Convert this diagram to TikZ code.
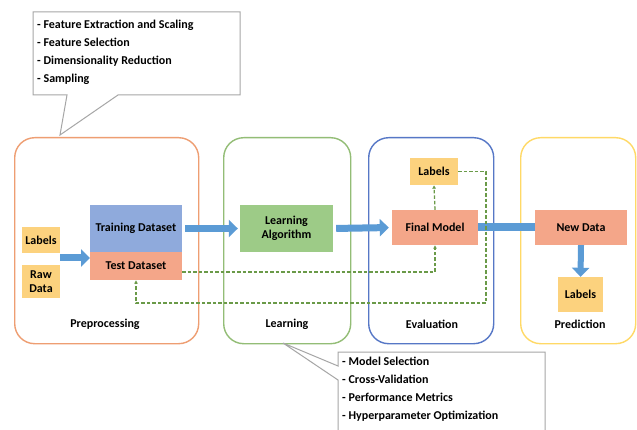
\documentclass[tikz,border=0pt]{standalone}
\usepackage{fontspec}
\setmainfont{Carlito}
\usetikzlibrary{arrows.meta,calc}
\definecolor{cOrange}{HTML}{EE9E72}
\definecolor{cGreen}{HTML}{93BD76}
\definecolor{cBlue}{HTML}{5677C6}
\definecolor{cYellow}{HTML}{FFD966}
\definecolor{fLabel}{HTML}{FCD27E}
\definecolor{fTrain}{HTML}{8FAADC}
\definecolor{fSalmon}{HTML}{F4A689}
\definecolor{fAlgo}{HTML}{9DCB87}
\definecolor{aBlue}{HTML}{5B9BD5}
\definecolor{dGreen}{HTML}{6A9A48}
\definecolor{cGray}{HTML}{A6A6A6}
\tikzset{
  region/.style={draw, line width=1.4pt, rounded corners=20pt, anchor=north west, inner sep=0pt},
  box/.style={draw=none, inner sep=0pt, align=center, font=\bfseries\fontsize{12}{14}\selectfont},
  caption/.style={font=\bfseries\fontsize{12}{14}\selectfont, inner sep=0pt},
  bluearrow/.style={draw=aBlue, line width=7pt, -{Triangle[width=17pt,length=9pt]}},
  bluebar/.style={draw=aBlue, line width=8pt},
  dashline/.style={draw=dGreen, line width=1.3pt, dash pattern=on 3.5pt off 2pt, -{Latex[length=3.5pt,width=4pt]}},
  callout/.style={draw=cGray, line width=1pt, fill=white},
  callouttext/.style={font=\bfseries\fontsize{12}{18}\selectfont, align=left, anchor=north west, inner sep=0pt}
}
\begin{document}
\begin{tikzpicture}[x=1pt,y=-1pt]
\useasboundingbox (0,0) rectangle (637,430);
\fill[white] (0,0) rectangle (637,430);

% regions
\node[region, draw=cOrange, minimum width=184pt, minimum height=206pt] (pre) at (14,137) {};
\node[region, draw=cGreen, minimum width=127pt, minimum height=206pt] (learn) at (223,137) {};
\node[region, draw=cBlue, minimum width=125pt, minimum height=206pt] (eval) at (368,137) {};
\node[region, draw=cYellow, minimum width=115pt, minimum height=206pt] (pred) at (520,137) {};

% captions
\node[caption] (cap1) at (105,324) {Preprocessing};
\node[caption] (cap2) at (287,324) {Learning};
\node[caption] (cap3) at (432,324) {Evaluation};
\node[caption] (cap4) at (580,324) {Prediction};

% boxes
\node[box, fill=fLabel, minimum width=38pt, minimum height=26pt] (lab1) at (41,240) {Labels};
\node[box, fill=fLabel, minimum width=38pt, minimum height=33pt] (raw) at (41,281.5) {Raw\\Data};
\node[box, fill=fTrain, minimum width=92pt, minimum height=47pt] (train) at (136,228.5) {Training Dataset};
\node[box, fill=fSalmon, minimum width=92pt, minimum height=28pt] (test) at (136,266) {Test Dataset};
\node[box, fill=fAlgo, minimum width=93pt, minimum height=47pt] (algo) at (286.5,228.5) {Learning\\Algorithm};
\node[box, fill=fSalmon, minimum width=86pt, minimum height=35pt] (final) at (435,227.5) {Final Model};
\node[box, fill=fLabel, minimum width=48pt, minimum height=27pt] (lab2) at (434,171.5) {Labels};
\node[box, fill=fSalmon, minimum width=92pt, minimum height=35pt] (newd) at (581,227.5) {New Data};
\node[box, fill=fLabel, minimum width=45pt, minimum height=35pt] (lab3) at (580.5,294.5) {Labels};

% blue arrows
\coordinate (a1) at (60,258);
\coordinate (a2) at (90,258);
\draw[bluearrow] (a1) -- (a2);
\draw[bluearrow, shorten <=3pt, shorten >=2pt] (train.east) -- (algo.west);
\draw[bluearrow, shorten <=3pt, shorten >=3pt] (algo.east) -- (final.west);
\draw[bluebar] (final.east) -- (newd.west);
\draw[bluearrow, line width=6pt] (newd.south) -- (lab3.north);

% dashed connectors
\draw[dashline] ([yshift=-6pt]test.east) -| (final.south);
\draw[dashline] (final.north) -- (lab2.south);
\coordinate (d1) at (486,303);
\draw[dashline] (lab2.east) -| (d1) -| (test.south);

% callouts
\draw[callout] (33,12) -- (240,12) -- (240,95) -- (118,95) -- (60,135) -- (67,95) -- (33,95) -- cycle;
\node[callouttext] (c1) at (37,20) {- Feature Extraction and Scaling\\- Feature Selection\\- Dimensionality Reduction\\- Sampling};
\draw[callout] (338,352) -- (545,352) -- (545,440) -- (338,440) -- (338,380) -- (283,343) -- (338,366) -- cycle;
\node[callouttext] (c2) at (342,357) {- Model Selection\\- Cross-Validation\\- Performance Metrics\\- Hyperparameter Optimization};
\end{tikzpicture}
\end{document}
